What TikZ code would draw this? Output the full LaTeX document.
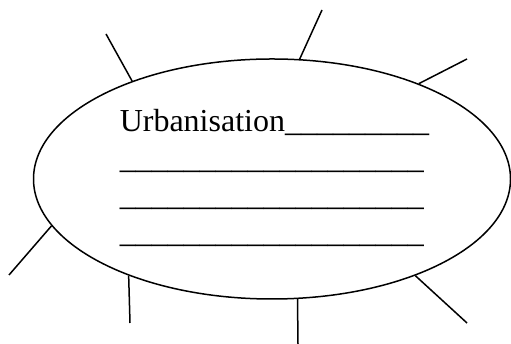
\documentclass[tikz,border=0pt]{standalone}
\usepackage{fontspec}
\setmainfont{Liberation Serif}
\usetikzlibrary{shapes.geometric, positioning}

\begin{document}
\begin{tikzpicture}[x=1pt, y=1pt, line width=1.5pt,
    spoke/.style={draw, line width=1.5pt},
    blankline/.style={anchor=base west, inner sep=0pt, font=\fontsize{32}{37}\selectfont}]
    \useasboundingbox (0,0) rectangle (511,344);

    % central ellipse
    \node[draw, ellipse, minimum width=477pt, minimum height=240pt, inner sep=0pt] (urban) at (272,165) {};

    % text lines inside the ellipse
    \node[blankline] (row1) at (119,212) {Urbanisation\_\_\_\_\_\_\_\_\_};
    \node[blankline] (row2) at (119,175) {\_\_\_\_\_\_\_\_\_\_\_\_\_\_\_\_\_\_\_};
    \node[blankline] (row3) at (119,138) {\_\_\_\_\_\_\_\_\_\_\_\_\_\_\_\_\_\_\_};
    \node[blankline] (row4) at (119,101) {\_\_\_\_\_\_\_\_\_\_\_\_\_\_\_\_\_\_\_};

    % free ends of the spokes
    \coordinate (s1) at (106,310);
    \coordinate (s2) at (322,334);
    \coordinate (s3) at (467,285);
    \coordinate (s4) at (9,69);
    \coordinate (s5) at (130,21);
    \coordinate (s6) at (298,0);
    \coordinate (s7) at (467,21);

    % spokes
    \draw[spoke] (urban.145.9) -- (s1);
    \draw[spoke] (urban.77.8) -- (s2);
    \draw[spoke] (urban.33.7) -- (s3);
    \draw[spoke] (urban.192.6) -- (s4);
    \draw[spoke] (urban.214.1) -- (s5);
    \draw[spoke] (urban.282.2) -- (s6);
    \draw[spoke] (urban.326.9) -- (s7);
\end{tikzpicture}
\end{document}
